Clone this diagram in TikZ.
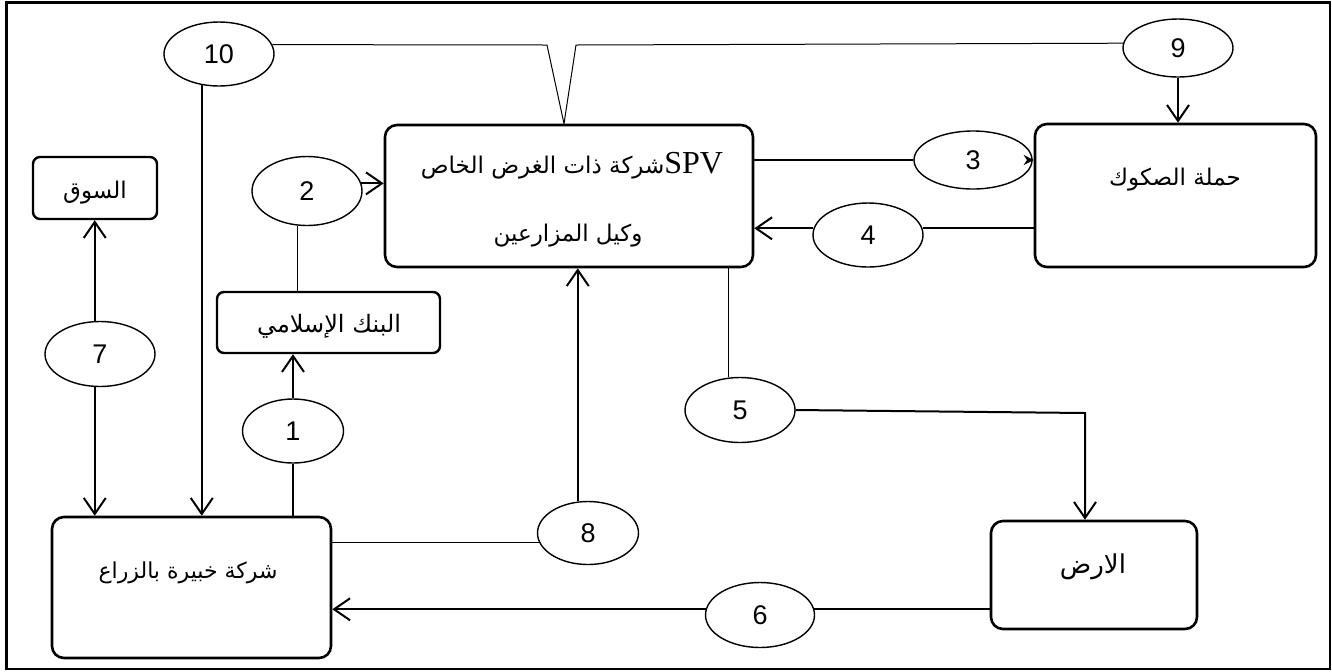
\documentclass[tikz,border=0pt]{standalone}
\usepackage{fontspec}
\setmainfont{Liberation Sans}
\newfontfamily\arabicfont[Script=Arabic]{DejaVu Sans}
\newfontfamily\spvfont{Liberation Serif}
\TeXXeTstate=1
\usetikzlibrary{arrows.meta,shapes.geometric}
\tikzset{
  bigbox/.style={draw, line width=1.3pt, rounded corners=6pt, inner sep=0pt},
  smallbox/.style={draw, line width=1.2pt, rounded corners=3.5pt, inner sep=0pt},
  num/.style={draw, ellipse, line width=0.7pt, inner sep=0pt, font=\fontsize{13.5}{15}\selectfont},
  arlabel/.style={inner sep=0pt, font=\arabicfont},
  conn/.style={line width=1pt},
  thinconn/.style={line width=0.5pt},
  arr/.style={conn, -{Straight Barb[length=8pt,width=11pt]}},
  smallarr/.style={conn, -{Stealth[length=5pt,width=5pt]}},
}
\begin{document}
\begin{tikzpicture}[x=0.5pt,y=-0.5pt]
\useasboundingbox (0,0) rectangle (1332,671);
\draw[line width=1.2pt] (6.5,2.5) rectangle (1330,669);

% boxes
\node[bigbox, minimum width=184pt, minimum height=71pt] (spv) at (569,196) {};
\node[bigbox, minimum width=140.5pt, minimum height=71.5pt] (ham) at (1175.5,195.5) {};
\node[smallbox, minimum width=62pt, minimum height=31pt] (market) at (95,188) {};
\node[smallbox, minimum width=111.5pt, minimum height=30.5pt] (bank) at (328.5,322.5) {};
\node[bigbox, minimum width=139.5pt, minimum height=70.5pt] (farm) at (191.5,587.5) {};
\node[bigbox, minimum width=103pt, minimum height=54pt] (land) at (1094,575) {};

% texts
\node[arlabel, font=\arabicfont\fontsize{11.5}{14}\selectfont] (tspv1) at (572,166) {\beginR\beginL{\spvfont\fontsize{16}{18}\selectfont SPV}\endL شركة ذات الغرض الخاص\endR};
\node[arlabel, font=\arabicfont\fontsize{11.5}{14}\selectfont] (tspv2) at (568,236) {\beginR وكيل المزارعين\endR};
\node[arlabel, font=\arabicfont\fontsize{11.5}{14}\selectfont] (tham) at (1175,180) {\beginR حملة الصكوك\endR};
\node[arlabel, font=\arabicfont\fontsize{11.5}{14}\selectfont] (tmarket) at (95,193) {\beginR السوق\endR};
\node[arlabel, font=\arabicfont\fontsize{12}{15}\selectfont] (tbank) at (329,326) {\beginR البنك الإسلامي\endR};
\node[arlabel, font=\arabicfont\fontsize{11}{13}\selectfont] (tfarm) at (188,573) {\beginR شركة خبيرة بالزراع\endR};
\node[arlabel, font=\arabicfont\fontsize{13}{15}\selectfont] (tland) at (1093,567) {\beginR الارض\endR};

% ellipses
\node[num, minimum width=55pt, minimum height=32pt] (e10) at (219,54) {10};
\node[num, minimum width=55pt, minimum height=29pt] (e9) at (1178,48) {9};
\node[num, minimum width=55pt, minimum height=34.5pt] (e2) at (307,191) {2};
\node[num, minimum width=59pt, minimum height=29pt] (e3) at (973,160) {3};
\node[num, minimum width=55pt, minimum height=32pt] (e4) at (868,235) {4};
\node[num, minimum width=55pt, minimum height=32.5pt] (e7) at (100,354) {7};
\node[num, minimum width=50.5pt, minimum height=32pt] (e1) at (293,431) {1};
\node[num, minimum width=55pt, minimum height=32.5pt] (e5) at (740,410) {5};
\node[num, minimum width=50.5pt, minimum height=31.5pt] (e8) at (588,533) {8};
\node[num, minimum width=54.5pt, minimum height=32.5pt] (e6) at (760,615) {6};

% top V connector 10 -- SPV -- 9
\coordinate (v1) at (547,45);
\coordinate (v2) at (576,45);
\coordinate (vt) at (564,0);
\draw[thinconn] (e10.10) -- (v1) -- (spv.north -| vt) -- (v2) -- (e9.175);

% 10 down to farm
\draw[arr] (e10.241) -- (e10.241 |- farm.north);
% 9 down to holders
\draw[arr] (e9.south) -- (e9.south |- ham.north);
% SPV -> 3 -> holders
\draw[conn] (e3.west -| spv.east) -- (e3.west);
\draw[smallarr] (e3.east) -- (e3.east -| ham.west);
% holders -> 4 -> SPV
\draw[conn] (e4.7 -| ham.west) -- (e4.7);
\draw[arr] (e4.173) -- (e4.173 -| spv.east);
% bank -- 2 -> SPV
\draw[arr] (e2.8) -- (e2.8 -| spv.west);
\draw[thinconn] (e2.255) -- (e2.255 |- bank.north);
% 7 market / farm
\draw[arr] (e7.99) -- (e7.99 |- market.south);
\draw[arr] (e7.261) -- (e7.261 |- farm.north);
% farm -- 1 -> bank
\draw[conn] (e1.south |- farm.north) -- (e1.south);
\draw[arr] (e1.north) -- (e1.north |- bank.south);
% farm -- 8 -> SPV
\draw[thinconn] (e8.191 -| farm.east) -- (e8.191);
\draw[arr] (e8.108) -- (e8.108 |- spv.south);
% SPV -- 5 -> land
\draw[thinconn] (spv.south -| e5.109) -- (e5.109);
\coordinate (c5) at (1085,413);
\draw[arr] (e5.east) -- (c5) -- (c5 |- land.north);
% land -- 6 -> farm
\draw[conn] (e6.6 -| land.west) -- (e6.6);
\draw[arr] (e6.174) -- (e6.174 -| farm.east);
\end{tikzpicture}
\end{document}
